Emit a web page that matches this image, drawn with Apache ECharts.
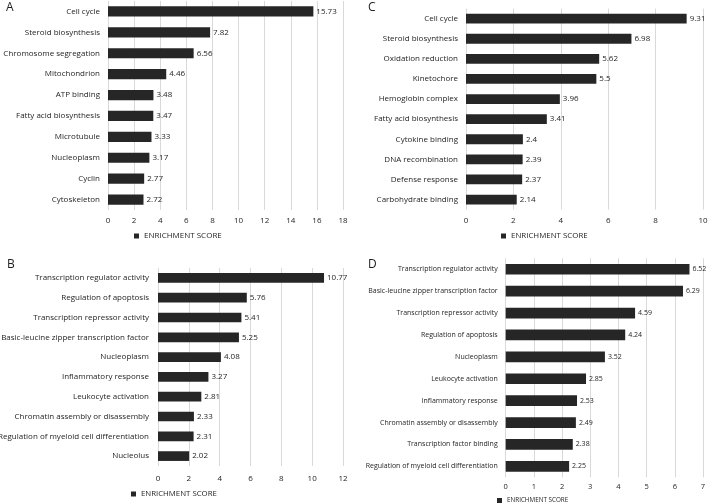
<!DOCTYPE html>
<html><head><meta charset="utf-8">
<script src="https://cdn.jsdelivr.net/npm/echarts@6/dist/echarts.min.js"></script>
<style>html,body{margin:0;padding:0;background:#fff}#c{width:709px;height:504px}</style>
</head><body><div id="c"></div>
<script>
const catsA = ["Cell cycle","Steroid biosynthesis","Chromosome segregation","Mitochondrion","ATP binding","Fatty acid biosynthesis","Microtubule","Nucleoplasm","Cyclin","Cytoskeleton"];
const valsA = [15.73,7.82,6.56,4.46,3.48,3.47,3.33,3.17,2.77,2.72];
const catsB = ["Transcription regulator activity","Regulation of apoptosis","Transcription repressor activity","Basic-leucine zipper transcription factor","Nucleoplasm","Inflammatory response","Leukocyte activation","Chromatin assembly or disassembly","Regulation of myeloid cell differentiation","Nucleolus"];
const valsB = [10.77,5.76,5.41,5.25,4.08,3.27,2.81,2.33,2.31,2.02];
const catsC = ["Cell cycle","Steroid biosynthesis","Oxidation reduction","Kinetochore","Hemoglobin complex","Fatty acid biosynthesis","Cytokine binding","DNA recombination","Defense response","Carbohydrate binding"];
const valsC = [9.31,6.98,5.62,5.5,3.96,3.41,2.4,2.39,2.37,2.14];
const catsD = ["Transcription regulator activity","Basic-leucine zipper transcription factor","Transcription repressor activity","Regulation of apoptosis","Nucleoplasm","Leukocyte activation","Inflammatory response","Chromatin assembly or disassembly","Transcription factor binding","Regulation of myeloid cell differentiation"];
const valsD = [6.52,6.29,4.59,4.24,3.52,2.85,2.53,2.49,2.38,2.25];
const axisMaxA = 18, axisIntA = 2;
const axisMaxB = 12, axisIntB = 2;
const axisMaxC = 10, axisIntC = 2;
const axisMaxD = 7, axisIntD = 1;
const seriesName = "ENRICHMENT SCORE";
const panelLetters = ["A","B","C","D"];

const FONT = "Open Sans";
const TXT = "#1e1e1e";
const BAR = "#262626";
const FW = 500;

const panels = [
  {cats:catsA, vals:valsA, max:axisMaxA, int:axisIntA, grid:{left:108, width:235, top:1, height:209}, fs:8, tfs:8, lm:8, tickTop:221, legend:{left:134, top:232}, lfs:8, letter:{left:6, top:2}},
  {cats:catsB, vals:valsB, max:axisMaxB, int:axisIntB, grid:{left:158, width:185, top:268, height:198}, fs:8, tfs:8, lm:9, tickTop:479, legend:{left:131, top:490}, lfs:7.8, letter:{left:7, top:259}},
  {cats:catsC, vals:valsC, max:axisMaxC, int:axisIntC, grid:{left:466, width:237, top:8.6, height:201}, fs:8, tfs:8, lm:8, tickTop:221, legend:{left:501, top:232}, lfs:7.9, letter:{left:368, top:2}},
  {cats:catsD, vals:valsD, max:axisMaxD, int:axisIntD, grid:{left:505.7, width:197.3, top:258.3, height:219}, fs:7, tfs:7.5, lm:8, tickTop:487, legend:{left:497, top:497.5}, lfs:6.3, letter:{left:368, top:259}}
];

const option = {
  animation:false,
  backgroundColor:"#fff",
  grid: panels.map(p=>Object.assign({containLabel:false, outerBoundsMode:"none"}, p.grid)),
  xAxis: panels.map((p,i)=>({
    type:"value", gridIndex:i, min:0, max:p.max, interval:p.int,
    axisLine:{show:false}, axisTick:{show:false},
    axisLabel:{fontFamily:FONT, fontWeight:FW, fontSize:p.tfs, color:TXT, margin:p.tickTop-(p.grid.top+p.grid.height)-4},
    splitLine:{lineStyle:{color:"#d9d9d9", width:1}}
  })),
  yAxis: panels.map((p,i)=>({
    type:"category", gridIndex:i, data:p.cats, inverse:true,
    axisLine:{show:false}, axisTick:{show:false},
    axisLabel:{fontFamily:FONT, fontWeight:FW, fontSize:p.fs, color:TXT, margin:p.lm}
  })),
  legend: panels.map((p,i)=>({
    left:p.legend.left, top:p.legend.top, itemWidth:5, itemHeight:5, itemGap:4,
    icon:"rect", data:[seriesName], padding:0,
    textStyle:{fontFamily:FONT, fontWeight:FW, fontSize:p.lfs, color:TXT}, selectedMode:false
  })),
  series: panels.map((p,i)=>({
    name:seriesName, type:"bar", xAxisIndex:i, yAxisIndex:i, data:p.vals,
    barWidth:"49%", itemStyle:{color:BAR},
    label:{show:true, position:"right", distance:3, fontFamily:FONT, fontWeight:FW, fontSize:p.fs, color:TXT}
  })),
  graphic: panels.map((p,i)=>({
    type:"text", left:p.letter.left, top:p.letter.top,
    style:{text:panelLetters[i], fontFamily:FONT, fontSize:12, fill:TXT}
  }))
};
const chart = echarts.init(document.getElementById("c"), null, {renderer:"canvas"});
chart.setOption(option);
</script></body></html>
